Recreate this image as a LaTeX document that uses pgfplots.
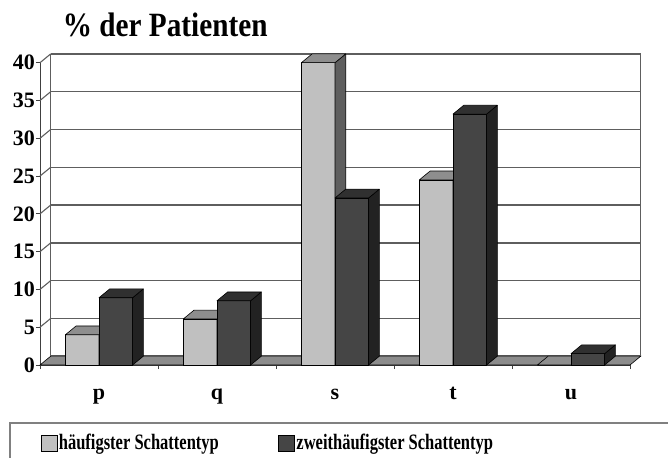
\documentclass[border=0pt]{standalone}
\usepackage{fontspec}
\setmainfont{Liberation Serif}
\newfontfamily\narrowfont{Liberation Serif}[FakeStretch=0.86]
\newfontfamily\legfont{Liberation Serif}[FakeStretch=0.75]
\usepackage{pgfplots}
\pgfplotsset{compat=1.18}
\usepackage{pgfplotstable}

\definecolor{lightfront}{HTML}{C0C0C0}
\definecolor{lighttop}{HTML}{8E8E8E}
\definecolor{lightside}{HTML}{5E5E5E}
\definecolor{darkfront}{HTML}{454545}
\definecolor{darktop}{HTML}{303030}
\definecolor{darkside}{HTML}{222222}
\definecolor{floorgray}{HTML}{8C8C8C}
\definecolor{gridgray}{HTML}{5E5E5E}

\pgfplotstableread{
x light dark
0 4.0 8.9
1 6.1 8.5
2 40.0 22.1
3 24.5 33.2
4 0 1.5
}\data

\pgfdeclareplotmark{nothing}{}

\pgfplotsset{
  depth3d/.style n args={4}{%
    forget plot, only marks, mark=nothing, scatter,
    visualization depends on={rawy \as \barval},
    scatter/@pre marker code/.code={%
      \pgfmathsetmacro\barhh{\barval*7.5575}%
      \pgfmathsetmacro\barxr{#2+10.7}%
      \pgfmathsetmacro\barxl{#1+10.7}%
      \pgfmathsetmacro\barhy{8.8-\barhh}%
      \filldraw[fill=#4, draw=black, line width=0.6bp, line join=round]
        (#2bp,0bp) -- (#2bp,-\barhh bp) -- (\barxr bp,\barhy bp) -- (\barxr bp,8.8bp) -- cycle;
      \filldraw[fill=#3, draw=black, line width=0.6bp, line join=round]
        (#1bp,0bp) -- (#2bp,0bp) -- (\barxr bp,8.8bp) -- (\barxl bp,8.8bp) -- cycle;
    },
    scatter/@post marker code/.code={},
  },
  sq legend/.style={legend image code/.code={%
    \draw[##1, draw=black, line width=0.6bp] (0bp,-8bp) rectangle (16bp,8bp);}},
}

\begin{document}
\begin{tikzpicture}
\path[use as bounding box] (0,0) rectangle (668bp,458bp);
\node[anchor=base west, inner sep=0pt, font=\fontsize{34bp}{40bp}\narrowfont\bfseries] at (62.7bp,421.3bp) {\% der Patienten};
\draw[draw=black!50, line width=2bp] (10bp,-30bp) rectangle (720bp,35bp);
\begin{axis}[
  at={(40bp,93bp)}, anchor=south west,
  scale only axis, width=590bp, height=302.3bp,
  xmin=-0.5, xmax=4.5, ymin=0, ymax=40,
  clip=false, clip marker paths=true,
  axis x line*=bottom, axis y line*=left,
  axis line style={draw=black!75, line width=1bp, -},
  ytick={0,5,...,40},
  tick align=outside, major tick length=4bp,
  tick style={draw=black!75, line width=1bp},
  xtick={-0.5,0.5,...,4.5}, xticklabels={},
  extra x ticks={0,1,2,3,4}, extra x tick labels={p,q,s,t,u},
  extra x tick style={major tick length=0pt, xticklabel style={anchor=base, yshift=-34bp}},
  ymajorgrids,
  major grid style={draw=gridgray, line width=1.4bp, xshift=10.7bp, yshift=8.8bp},
  ticklabel style={font=\fontsize{22bp}{25bp}\selectfont\bfseries},
  yticklabel style={xshift=2.5bp},
  /pgf/number format/assume math mode=true,
  legend columns=2,
  legend style={at={(axis description cs:0.001,-0.258)}, anchor=west, draw=none, fill=none,
    inner sep=0pt, nodes={inner sep=1.5bp, font=\fontsize{22bp}{25bp}\legfont\bfseries},
    /tikz/every even column/.append style={column sep=58bp}},
]
\filldraw[fill=floorgray, draw=black, line width=0.6bp]
  (axis cs:-0.5,0) -- (axis cs:4.5,0) -- ([shift={(10.7bp,8.8bp)}]axis cs:4.5,0)
  -- ([shift={(10.7bp,8.8bp)}]axis cs:-0.5,0) -- cycle;
\draw[gridgray, line width=1.4bp] ([shift={(10.7bp,8.8bp)}]axis cs:-0.5,0) -- ([shift={(10.7bp,8.8bp)}]axis cs:-0.5,40);
\draw[gridgray, line width=1.4bp] ([shift={(10.7bp,8.8bp)}]axis cs:4.5,0) -- ([shift={(10.7bp,8.8bp)}]axis cs:4.5,40);
\pgfplotsinvokeforeach{5,10,...,40}{\draw[gridgray, line width=1.1bp] (axis cs:-0.5,#1) -- ++(10.7bp,8.8bp);}

\addplot[ybar, bar width=33.6bp, bar shift=-16.8bp, fill=lightfront, draw=black, line width=0.6bp, sq legend]
  table[x=x, y=light] {\data};
\addlegendentry{häufigster Schattentyp}
\addplot[depth3d={-33.6}{0}{lighttop}{lightside}] table[x=x, y=light] {\data};
\addplot[ybar, bar width=33.6bp, bar shift=16.8bp, fill=darkfront, draw=black, line width=0.6bp, sq legend]
  table[x=x, y=dark] {\data};
\addlegendentry{zweithäufigster Schattentyp}
\addplot[depth3d={0}{33.6}{darktop}{darkside}] table[x=x, y=dark] {\data};
\end{axis}
\end{tikzpicture}
\end{document}
